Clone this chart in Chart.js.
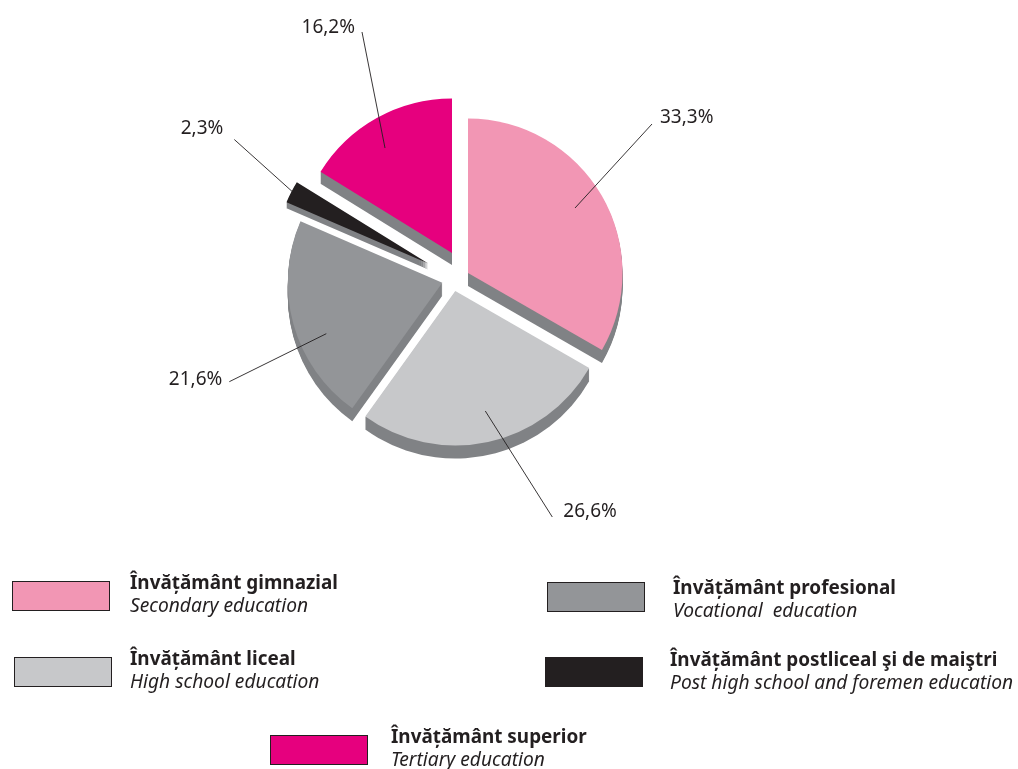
<!DOCTYPE html>
<html>
<head>
<meta charset="utf-8">
<title>Învățământ</title>
<script src="https://cdn.jsdelivr.net/npm/chart.js@4"></script>
<style>
  html, body { margin: 0; background: #fff; }
  #wrap { position: relative; width: 1018px; height: 769px; overflow: hidden; }
  canvas { position: absolute; left: 0; top: 0; }
  .box { position: absolute; box-sizing: border-box; border: 1px solid #231f20; }
  .txt { position: absolute; color: #231f20; font-family: "Noto Sans", sans-serif; white-space: pre; }
  .txt b { display: block; font-size: 18.9px; line-height: 24px; font-weight: 700; }
  .txt i { display: block; font-size: 19.2px; line-height: 22px; }
</style>
</head>
<body>
<div id="wrap">
  <canvas id="pie" width="1018" height="769"></canvas>
</div>
<script>
const categories = ['Învățământ gimnazial', 'Învățământ liceal', 'Învățământ profesional', 'Învățământ postliceal şi de maiştri', 'Învățământ superior'];
const categoriesEn = ['Secondary education', 'High school education', 'Vocational  education', 'Post high school and foremen education', 'Tertiary education'];
const shares = [33.3, 26.6, 21.6, 2.3, 16.2];
const colors = ['#f296b4', '#c7c8ca', '#939598', '#231f20', '#e6007e'];

const shadowColor = '#808285';
// how far each slice is pulled out of the pie, and how thick it looks
const explode = [[14, -3], [1.3, 15], [-11.7, 6.7], [-25.7, -12.5], [-2, -23]];
const depth = [13, 13, 13, 6, 12];
// leader line ends relative to the slice tip, then label anchor
const leaders = [
  { from: [107, -65], to: [184, -149], label: [192, -155], align: 'left' },
  { from: [30, 120], to: [97, 226], label: [108, 221], align: 'left' },
  { from: [-116, 51], to: [-213, 99], label: [-220, 97], align: 'right' },
  { from: [-135, -71], to: [-194, -124], label: [-205, -135], align: 'right' },
  { from: [-67, -105], to: [-90, -221], label: [-97, -225], align: 'right' }
];
// legend slots: box x, y, w, h, text x, text y
const legendSlots = [
  [12, 581, 98, 30, 130, 570],
  [14, 657, 98, 30, 130, 646],
  [547, 582, 98, 30, 673, 575],
  [545, 657, 98, 30, 670, 647],
  [270, 735, 98, 30, 391, 724]
];

const wrap = document.getElementById('wrap');
categories.forEach((name, i) => {
  const [x, y, w, h, tx, ty] = legendSlots[i];
  const box = document.createElement('div');
  box.className = 'box';
  box.style.cssText = `left:${x}px;top:${y}px;width:${w}px;height:${h}px;background:${colors[i]}`;
  wrap.appendChild(box);
  const txt = document.createElement('div');
  txt.className = 'txt';
  txt.style.cssText = `left:${tx}px;top:${ty}px`;
  const b = document.createElement('b');
  b.textContent = name;
  const it = document.createElement('i');
  it.textContent = categoriesEn[i];
  txt.append(b, it);
  wrap.appendChild(txt);
});

const explodedPie = {
  id: 'explodedPie',
  afterDatasetUpdate(chart) {
    chart.getDatasetMeta(0).data.forEach((arc, i) => {
      arc.x += explode[i][0];
      arc.y += explode[i][1];
    });
  },
  beforeDatasetsDraw(chart) {
    const ctx = chart.ctx;
    ctx.save();
    ctx.fillStyle = shadowColor;
    chart.getDatasetMeta(0).data.forEach((arc, i) => {
      for (let d = 1; d <= depth[i]; d++) {
        ctx.beginPath();
        ctx.moveTo(arc.x, arc.y + d);
        ctx.arc(arc.x, arc.y + d, arc.outerRadius, arc.startAngle, arc.endAngle);
        ctx.closePath();
        ctx.fill();
      }
    });
    ctx.restore();
  },
  afterDatasetsDraw(chart) {
    const ctx = chart.ctx;
    ctx.save();
    ctx.strokeStyle = '#231f20';
    ctx.lineWidth = 0.9;
    ctx.fillStyle = '#231f20';
    ctx.font = '19px "Noto Sans", sans-serif';
    ctx.textBaseline = 'middle';
    chart.getDatasetMeta(0).data.forEach((arc, i) => {
      const l = leaders[i];
      ctx.beginPath();
      ctx.moveTo(arc.x + l.from[0], arc.y + l.from[1]);
      ctx.lineTo(arc.x + l.to[0], arc.y + l.to[1]);
      ctx.stroke();
      ctx.textAlign = l.align;
      ctx.fillText(shares[i].toFixed(1).replace('.', ',') + '%', arc.x + l.label[0], arc.y + l.label[1]);
    });
    ctx.restore();
  }
};

new Chart(document.getElementById('pie'), {
  type: 'pie',
  data: {
    labels: categories,
    datasets: [{
      data: shares,
      backgroundColor: colors,
      borderWidth: 0
    }]
  },
  options: {
    responsive: false,
    animation: false,
    events: [],
    radius: 154.5,
    layout: { padding: { left: 0, top: 0, right: 110, bottom: 217 } },
    plugins: {
      legend: { display: false },
      tooltip: { enabled: false }
    }
  },
  plugins: [explodedPie]
});
</script>
</body>
</html>
